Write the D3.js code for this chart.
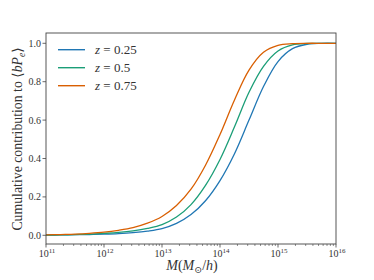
<!DOCTYPE html>
<html><head><meta charset="utf-8">
<script src="https://cdn.jsdelivr.net/npm/d3@7/dist/d3.min.js"></script>
<style>body{margin:0;background:#fff}svg{display:block}</style>
</head><body><svg id="c" width="374" height="280" font-family="Liberation Serif, DejaVu Serif, serif"></svg>
<script>
const logM = [11.0,11.25,11.5,11.75,12.0,12.25,12.5,12.75,13.0,13.25,13.5,13.75,14.0,14.25,14.5,14.75,15.0,15.25,15.5,15.75,16.0];
const yZ025 = [0.001,0.002,0.003,0.004,0.006,0.009,0.014,0.022,0.035,0.062,0.108,0.18,0.285,0.425,0.60,0.775,0.905,0.972,0.995,1.0,1.0];
const yZ05  = [0.001,0.002,0.004,0.006,0.010,0.015,0.023,0.036,0.056,0.095,0.16,0.26,0.395,0.565,0.745,0.88,0.96,0.992,0.999,1.0,1.0];
const yZ075 = [0.002,0.004,0.006,0.010,0.016,0.026,0.040,0.063,0.098,0.155,0.24,0.365,0.525,0.705,0.86,0.953,0.989,0.998,1.0,1.0,1.0];
const seriesNames = ["0.25","0.5","0.75"];
const seriesVals = [yZ025,yZ05,yZ075];
const colors = ["#2077b4","#1b9e77","#d95f02"];
const xTickExp = [11,12,13,14,15,16];
const yTicks = [0.0,0.2,0.4,0.6,0.8,1.0];

const svg = d3.select("#c");
const L=46,R=336,T=33,B=244;
const x = d3.scaleLog().domain([1e11,1e16]).range([L,R]);
const y = d3.scaleLinear().domain([0,1]).range([235.3,43.3]);
const ink="#333";

const line = d3.line().x(d=>x(Math.pow(10,d[0]))).y(d=>y(d[1])).curve(d3.curveCatmullRom.alpha(0.5));
seriesVals.forEach((vals,i)=>{
  svg.append("path").datum(logM.map((m,j)=>[m,vals[j]]))
    .attr("d",line).attr("fill","none").attr("stroke",colors[i]).attr("stroke-width",1.3);
});

svg.append("rect").attr("x",L).attr("y",T).attr("width",R-L).attr("height",B-T)
  .attr("fill","none").attr("stroke","#444").attr("stroke-width",0.9);

const gx = svg.append("g");
for(let e=11;e<16;e++){
  for(let k=2;k<=9;k++){
    const xx=x(k*Math.pow(10,e));
    gx.append("line").attr("x1",xx).attr("x2",xx).attr("y1",B).attr("y2",B+2).attr("stroke","#444").attr("stroke-width",0.6);
  }
}
xTickExp.forEach(e=>{
  const xx=x(Math.pow(10,e));
  gx.append("line").attr("x1",xx).attr("x2",xx).attr("y1",B).attr("y2",B+3.5).attr("stroke","#444").attr("stroke-width",0.8);
  const t=gx.append("text").attr("x",xx+1).attr("y",257).attr("text-anchor","middle").attr("font-size",10).attr("fill",ink);
  t.append("tspan").text("10");
  t.append("tspan").attr("dy",-4).attr("font-size",7).text(e);
});
yTicks.forEach(v=>{
  const yy=y(v);
  svg.append("line").attr("x1",L-3.5).attr("x2",L).attr("y1",yy).attr("y2",yy).attr("stroke","#444").attr("stroke-width",0.8);
  svg.append("text").attr("x",L-5).attr("y",yy+3.5).attr("text-anchor","end").attr("font-size",10).attr("fill",ink).text(v.toFixed(1));
});

const xl = svg.append("text").attr("x",192).attr("y",270).attr("text-anchor","middle").attr("font-size",14).attr("fill",ink);
xl.append("tspan").attr("font-style","italic").text("M");
xl.append("tspan").text("(");
xl.append("tspan").attr("font-style","italic").text("M");
xl.append("tspan").attr("dy",2.5).attr("font-size",9.5).text("⊙");
xl.append("tspan").attr("dy",-2.5).text("/");
xl.append("tspan").attr("font-style","italic").text("h");
xl.append("tspan").text(")");

const yl = svg.append("text").attr("transform","translate(22,139) rotate(-90)").attr("text-anchor","middle").attr("font-size",13.8).attr("fill",ink);
yl.append("tspan").text("Cumulative contribution to ⟨");
yl.append("tspan").attr("font-style","italic").text("bP");
yl.append("tspan").attr("font-style","italic").attr("dy",2.5).attr("font-size",9.5).text("e");
yl.append("tspan").attr("dy",-2.5).text("⟩");

seriesNames.forEach((n,i)=>{
  const yy=49.7+i*18;
  svg.append("line").attr("x1",58).attr("x2",85).attr("y1",yy).attr("y2",yy).attr("stroke",colors[i]).attr("stroke-width",1.4);
  const t=svg.append("text").attr("x",95).attr("y",yy+4).attr("font-size",13).attr("fill",ink);
  t.append("tspan").attr("font-style","italic").text("z");
  t.append("tspan").text(" = "+n);
});
</script></body></html>
